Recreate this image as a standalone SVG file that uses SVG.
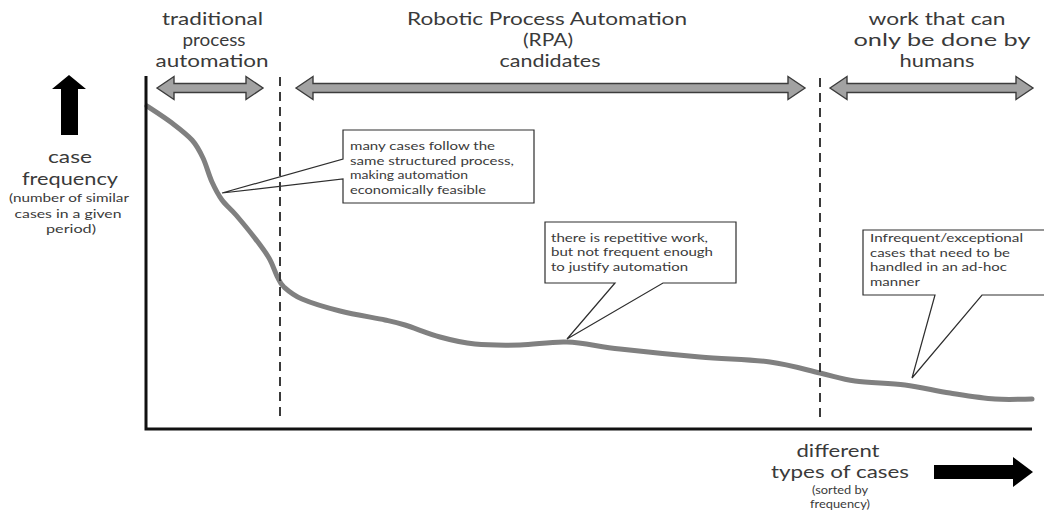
<svg xmlns="http://www.w3.org/2000/svg" width="1044" height="515" viewBox="0 0 1044 515">
  <style>
    text { font-family: Lato, "Open Sans", "Liberation Sans", sans-serif; fill: #3a3a3a; }
    .head { font-size: 17px; text-anchor: middle; }
    .axis-big { font-size: 17.5px; text-anchor: middle; }
    .axis-small { font-size: 11.5px; text-anchor: middle; }
    .note { font-size: 11.5px; }
    .range { fill: #a2a2a2; stroke: #3c3c3c; stroke-width: 1.4; stroke-linejoin: miter; }
    .callout { fill: #ffffff; stroke: #2e2e2e; stroke-width: 1.2; stroke-linejoin: miter; }
    .divider { stroke: #3a3a3a; stroke-width: 2; stroke-dasharray: 9 6; fill: none; }
    .axis { stroke: #111111; stroke-width: 3; fill: none; }
    .curve { stroke: #808080; stroke-width: 5; fill: none; stroke-linecap: round; stroke-linejoin: round; }
    .big-arrow { fill: #000000; }
  </style>

  <rect width="1044" height="515" fill="#ffffff"/>

  <!-- column headings -->
  <g id="heading-traditional">
    <text class="head" x="212.5" y="25" textLength="101" lengthAdjust="spacingAndGlyphs">traditional</text>
    <text class="head" x="214" y="46" textLength="63" lengthAdjust="spacingAndGlyphs">process</text>
    <text class="head" x="212" y="67" textLength="113" lengthAdjust="spacingAndGlyphs">automation</text>
  </g>
  <g id="heading-rpa">
    <text class="head" x="547" y="25" textLength="280" lengthAdjust="spacingAndGlyphs">Robotic Process Automation</text>
    <text class="head" x="548" y="46" textLength="50" lengthAdjust="spacingAndGlyphs">(RPA)</text>
    <text class="head" x="550" y="67" textLength="101" lengthAdjust="spacingAndGlyphs">candidates</text>
  </g>
  <g id="heading-humans">
    <text class="head" x="937" y="25" textLength="137" lengthAdjust="spacingAndGlyphs">work that can</text>
    <text class="head" x="942" y="46" textLength="177" lengthAdjust="spacingAndGlyphs">only be done by</text>
    <text class="head" x="937" y="67" textLength="75" lengthAdjust="spacingAndGlyphs">humans</text>
  </g>

  <!-- range arrows under the headings -->
  <g id="range-traditional">
    <path class="range" d="M157,88 L174,76.5 L174,83.5 L246,83.5 L246,76.5 L263,88 L246,99.5 L246,92.5 L174,92.5 L174,99.5 Z"/>
  </g>
  <g id="range-rpa">
    <path class="range" d="M296,88 L313,76.5 L313,83.5 L788,83.5 L788,76.5 L805,88 L788,99.5 L788,92.5 L313,92.5 L313,99.5 Z"/>
  </g>
  <g id="range-humans">
    <path class="range" d="M830,88 L847,76.5 L847,83.5 L1016,83.5 L1016,76.5 L1033,88 L1016,99.5 L1016,92.5 L847,92.5 L847,99.5 Z"/>
  </g>

  <!-- vertical axis label -->
  <g id="label-frequency">
    <polygon class="big-arrow" points="69,75 86,89 78,89 78,135 61,135 61,89 52,89"/>
    <text class="axis-big" x="70" y="163" textLength="44" lengthAdjust="spacingAndGlyphs">case</text>
    <text class="axis-big" x="70" y="185" textLength="96" lengthAdjust="spacingAndGlyphs">frequency</text>
    <text class="axis-small" x="69" y="202" textLength="120" lengthAdjust="spacingAndGlyphs">(number of similar</text>
    <text class="axis-small" x="68" y="218" textLength="107" lengthAdjust="spacingAndGlyphs">cases in a given</text>
    <text class="axis-small" x="71" y="233" textLength="50" lengthAdjust="spacingAndGlyphs">period)</text>
  </g>

  <!-- horizontal axis label -->
  <g id="label-types">
    <polygon class="big-arrow" points="934,465 1013,465 1013,457 1033,472 1013,487 1013,479 934,479"/>
    <text class="axis-big" x="838" y="457" textLength="83" lengthAdjust="spacingAndGlyphs">different</text>
    <text class="axis-big" x="840" y="478" textLength="138" lengthAdjust="spacingAndGlyphs">types of cases</text>
    <text class="axis-small" x="840" y="494" textLength="56" lengthAdjust="spacingAndGlyphs">(sorted by</text>
    <text class="axis-small" x="840" y="508" textLength="60" lengthAdjust="spacingAndGlyphs">frequency)</text>
  </g>

  <!-- frequency curve -->
  <g id="curve">
    <path class="curve" d="M147,106 C151.2,108.8 164.5,117.3 172,123 C179.5,128.7 186.8,134.2 192,140 C197.2,145.8 199.7,151 203,158 C206.3,165 208.8,175 212,182 C215.2,189 218,194.5 222,200 C226,205.5 230.7,208.8 236,215 C241.3,221.2 248.5,229.8 254,237 C259.5,244.2 265.2,251.5 269,258 C272.8,264.5 274.5,271.2 277,276 C279.5,280.8 279.8,283.2 284,287 C288.2,290.8 292.7,295 302,299 C311.3,303 326.2,307.5 340,311 C353.8,314.5 374.2,317.7 385,320 C395.8,322.3 395.8,322.2 405,325 C414.2,327.8 428.3,333.8 440,337 C451.7,340.2 461.7,342.7 475,344 C488.3,345.3 504.7,345.3 520,345 C535.3,344.7 550.3,341.3 567,342 C583.7,342.7 597.8,346.5 620,349 C642.2,351.5 675,354.8 700,357 C725,359.2 750,359.3 770,362 C790,364.7 805.8,369.8 820,373 C834.2,376.2 840.8,379 855,381 C869.2,383 889.2,383 905,385 C920.8,387 935,390.7 950,393 C965,395.3 981.3,398 995,399 C1008.7,400 1025.8,399 1032,399"/>
  </g>

  <!-- callouts -->
  <g id="callout-structured">
    <polygon class="callout" points="343,130 534,130 534,203 343,203 343,179 222,193 343,159"/>
    <text class="note" x="350" y="150" textLength="145" lengthAdjust="spacingAndGlyphs">many cases follow the</text>
    <text class="note" x="350" y="164.5" textLength="164" lengthAdjust="spacingAndGlyphs">same structured process,</text>
    <text class="note" x="350" y="179" textLength="118" lengthAdjust="spacingAndGlyphs">making automation</text>
    <text class="note" x="350" y="193.5" textLength="136" lengthAdjust="spacingAndGlyphs">economically feasible</text>
  </g>
  <g id="callout-repetitive">
    <polygon class="callout" points="545,222 736,222 736,283 663,283 567,339 615,283 545,283"/>
    <text class="note" x="551" y="241.5" textLength="157" lengthAdjust="spacingAndGlyphs">there is repetitive work,</text>
    <text class="note" x="551" y="256" textLength="162" lengthAdjust="spacingAndGlyphs">but not frequent enough</text>
    <text class="note" x="551" y="270.5" textLength="137" lengthAdjust="spacingAndGlyphs">to justify automation</text>
  </g>
  <g id="callout-exceptional">
    <polygon class="callout" points="863,230 1050,230 1050,295 982,295 912,378 935,295 863,295"/>
    <text class="note" x="870" y="242" textLength="153" lengthAdjust="spacingAndGlyphs">Infrequent/exceptional</text>
    <text class="note" x="870" y="256.5" textLength="140" lengthAdjust="spacingAndGlyphs">cases that need to be</text>
    <text class="note" x="870" y="271" textLength="137" lengthAdjust="spacingAndGlyphs">handled in an ad-hoc</text>
    <text class="note" x="870" y="285.5" textLength="50" lengthAdjust="spacingAndGlyphs">manner</text>
  </g>

  <!-- column boundaries and axes -->
  <g id="connectors">
    <line class="divider" x1="280" y1="77" x2="280" y2="422"/>
    <line class="divider" x1="820" y1="78" x2="820" y2="422"/>
    <polyline class="axis" points="146,76 146,429 1032,429"/>
  </g>
</svg>
